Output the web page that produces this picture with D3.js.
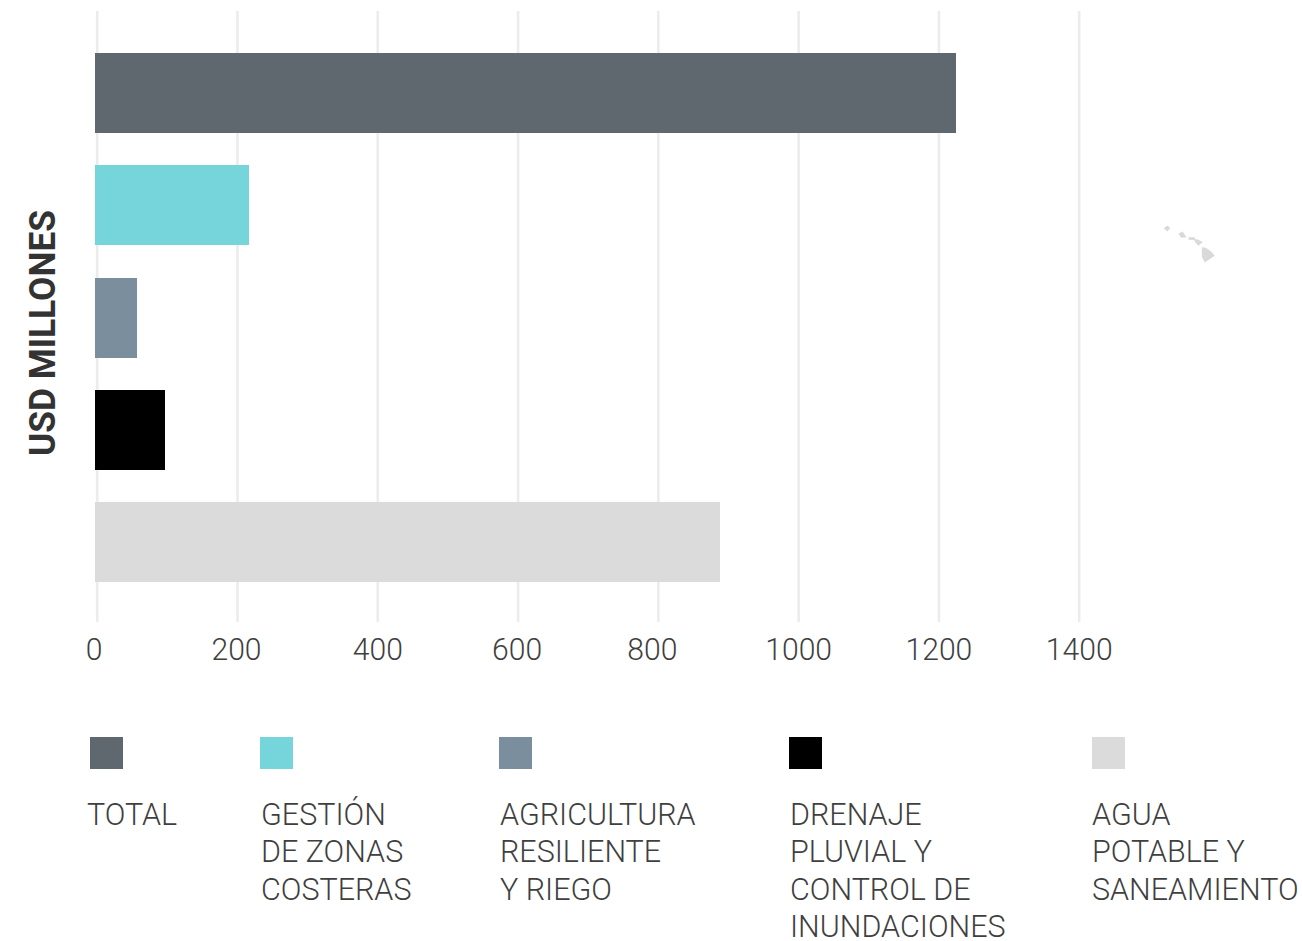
<!DOCTYPE html>
<html>
<head>
<meta charset="utf-8">
<script src="https://cdn.jsdelivr.net/npm/d3@7"></script>
<style>
    body { margin: 0; background: #fff; }
    text { font-family: Roboto, sans-serif; }
    .tick_label, .legend_label { font-size: 32px; font-weight: 300; fill: #3f3f3f; }
    .y_title { font-size: 37px; font-weight: 700; fill: #333; }
</style>
</head>
<body>
<svg id="bar_chart" width="1302" height="941"></svg>
<script>
let categories = ['TOTAL', 'GESTIÓN DE ZONAS COSTERAS', 'AGRICULTURA RESILIENTE Y RIEGO', 'DRENAJE PLUVIAL Y CONTROL DE INUNDACIONES', 'AGUA POTABLE Y SANEAMIENTO'];
let values = [1225, 217, 58, 98, 888.5];
let colors = ['#5f676f', '#75d5da', '#7b8e9d', '#000000', '#dbdbdb'];
let tickValues = [0, 200, 400, 600, 800, 1000, 1200, 1400];
let tickNudge = [-3, -1, 0, -1, -6, 0, 0, 0];
let legendLines = [
    ['TOTAL'],
    ['GESTIÓN', 'DE ZONAS', 'COSTERAS'],
    ['AGRICULTURA', 'RESILIENTE', 'Y RIEGO'],
    ['DRENAJE', 'PLUVIAL Y', 'CONTROL DE', 'INUNDACIONES'],
    ['AGUA', 'POTABLE Y', 'SANEAMIENTO']
];
// lon/lat outlines of the islands left over from the map behind the chart
let hawaii = [
    [[-159.85, 22.1], [-159.45, 22.35], [-159.2, 22.1], [-159.5, 21.8]],
    [[-158.35, 21.6], [-157.95, 21.8], [-157.55, 21.25], [-158.1, 21.2]],
    [[-157.35, 21.25], [-156.7, 21.25], [-156.7, 21.0], [-157.35, 21.02]],
    [[-156.8, 21.0], [-156.55, 21.1], [-155.9, 20.8], [-156.35, 20.45], [-156.6, 20.72]],
    [[-156.0, 20.3], [-155.6, 20.25], [-155.0, 19.85], [-154.7, 19.5], [-155.7, 18.85], [-156.0, 19.4]]
];

let xLeft = 96.7;
let xRight = 1078.7;
let gridTop = 11;
let gridBottom = 622;
let legendSquash = 0.952;
let tickSquash = 0.94;

let xScale = d3.scaleLinear().domain([0, 1400]).range([xLeft, xRight]);
let yScale = d3.scaleBand().domain(categories).range([53.2, 582.2]).paddingInner(0.287).paddingOuter(0);

let svg = d3.select('#bar_chart');

// Axis, only the grid lines and the labels stay from the d3 axis
let xAxis = d3.axisBottom(xScale)
    .tickValues(tickValues)
    .tickSize(gridBottom - gridTop)
    .tickPadding(15)
    .tickFormat(d => d);
let axis = svg.append('g')
    .attr('transform', 'translate(0,' + gridTop + ')')
    .call(xAxis);
axis.select('.domain').remove();
axis.selectAll('line')
    .attr('stroke', '#ececec')
    .attr('stroke-width', 2.6);
axis.selectAll('text')
    .attr('class', 'tick_label')
    .attr('font-family', null)
    .attr('font-size', null)
    .attr('x', (d, i) => tickNudge[i]);

// Bars
svg.append('g')
    .selectAll('rect')
    .data(categories)
    .enter()
    .append('rect')
    .attr('x', Math.floor(xScale(0)) - 1)
    .attr('y', d => Math.round(yScale(d)))
    .attr('width', (d, i) => Math.round(xScale(values[i])) - Math.floor(xScale(0)) + 1)
    .attr('height', Math.round(yScale.bandwidth()))
    .attr('fill', (d, i) => colors[i]);

// Y title
svg.append('text')
    .attr('class', 'y_title')
    .attr('text-anchor', 'middle')
    .attr('transform', 'translate(55,333) rotate(-90)')
    .text('USD MILLONES');

// Hawaii
let projection = d3.geoMercator().scale(567).center([-157.5, 20.9]).translate([1187, 241]);
let islandLine = d3.line().curve(d3.curveLinearClosed).x(d => projection(d)[0]).y(d => projection(d)[1]);
svg.append('g')
    .selectAll('path')
    .data(hawaii)
    .enter()
    .append('path')
    .attr('d', islandLine)
    .attr('fill', '#d9d9d9');

// Legend
let legendSwatchX = [90, 260, 499, 789, 1092];
let legendTextX = [87, 261, 500, 790, 1092];
let legend = svg.append('g')
    .selectAll('g')
    .data(categories)
    .enter()
    .append('g');
legend.append('rect')
    .attr('x', (d, i) => legendSwatchX[i])
    .attr('y', 737)
    .attr('width', 33)
    .attr('height', 32)
    .attr('fill', (d, i) => colors[i]);
legend.each(function (d, i) {
    d3.select(this)
        .selectAll('text')
        .data(legendLines[i])
        .enter()
        .append('text')
        .attr('class', 'legend_label')
        .attr('x', legendTextX[i])
        .attr('y', (t, j) => 825 + j * 37.3)
        .text(t => t);
});

// Roboto runs wider than the reference face, squeeze everything to fit
function squeeze(selection, factor) {
    selection.each(function () {
        this.setAttribute('lengthAdjust', 'spacingAndGlyphs');
        this.setAttribute('textLength', this.getComputedTextLength() * factor);
    });
}
squeeze(svg.selectAll('.tick_label'), tickSquash);
squeeze(svg.selectAll('.legend_label'), legendSquash);
svg.select('.y_title').each(function () {
    this.setAttribute('lengthAdjust', 'spacingAndGlyphs');
    this.setAttribute('textLength', 246);
});
</script>
</body>
</html>
